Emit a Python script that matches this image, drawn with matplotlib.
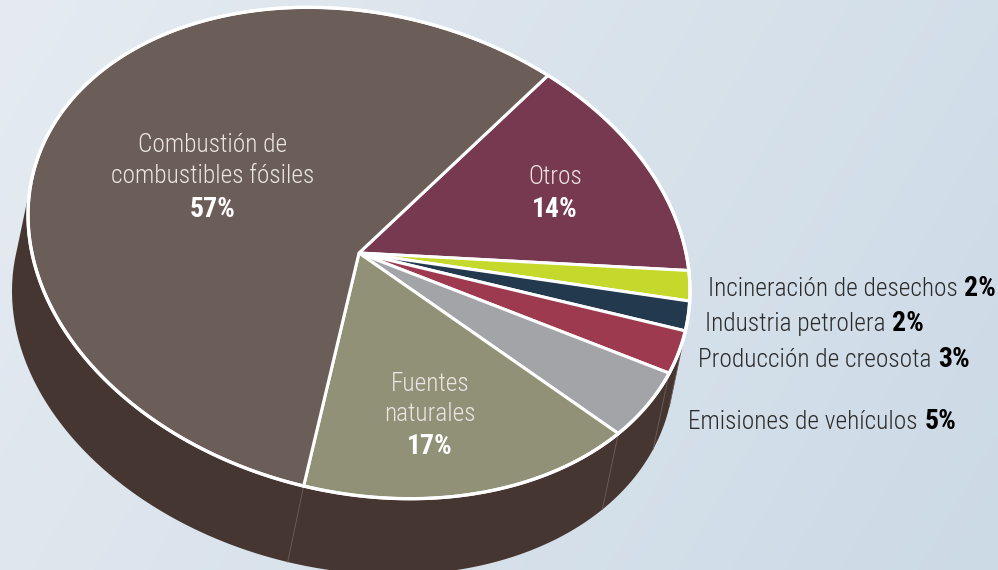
import numpy as np
import matplotlib
matplotlib.use("Agg")
import matplotlib.pyplot as plt
from matplotlib.patches import Polygon
from matplotlib import font_manager

# data (clockwise from the top-right boundary)
labels = ["Otros", "Incineración de desechos", "Industria petrolera",
          "Producción de creosota", "Emisiones de vehículos",
          "Fuentes naturales", "Combustión de combustibles fósiles"]
values = [14, 2, 2, 3, 5, 17, 57]
colors = ["#77394f", "#c5d82c", "#233a4e", "#9e3a4f", "#a3a4a8",
          "#909177", "#6b5d58"]
side_color = "#463631"


def pick_font(cands):
    for c in cands:
        try:
            font_manager.findfont(c, fallback_to_default=False)
            return c
        except Exception:
            pass
    return "DejaVu Sans"


font = pick_font(["Liberation Sans Narrow", "DejaVu Sans Condensed",
                  "Roboto Condensed", "Open Sans Condensed", "Roboto"])

W, H = 998, 570
fig = plt.figure(figsize=(W / 100, H / 100), dpi=100)
ax = fig.add_axes([0, 0, 1, 1])
ax.set_xlim(0, W)
ax.set_ylim(H, 0)
ax.axis("off")

# background gradient
g = np.linspace(0, 1, 256)
c0 = np.array([0xe5, 0xeb, 0xf1]) / 255
c1 = np.array([0xcc, 0xda, 0xe6]) / 255
xx, yy = np.meshgrid(g, g)
tt = np.clip(0.75 * xx + 0.25 * yy, 0, 1)[..., None]
ax.imshow(c0 * (1 - tt) + c1 * tt, extent=[0, W, H, 0], zorder=0, aspect="auto")

# tilted ellipse geometry (screen pixels, y down)
cx, cy = 359, 253
a, b = 335.5, 239.5
phi = np.radians(13.5)
u = np.array([np.cos(phi), np.sin(phi)])
v = np.array([-np.sin(phi), np.cos(phi)])
depth = np.array([-16, 76])


def P(t):
    t = np.atleast_1d(t)
    return np.column_stack([cx + a * np.cos(t) * u[0] + b * np.sin(t) * v[0],
                            cy + a * np.cos(t) * u[1] + b * np.sin(t) * v[1]])


def hull(pts):
    pts = sorted(map(tuple, pts))
    def cross(o, p, q):
        return (p[0] - o[0]) * (q[1] - o[1]) - (p[1] - o[1]) * (q[0] - o[0])
    lo, up = [], []
    for p in pts:
        while len(lo) >= 2 and cross(lo[-2], lo[-1], p) <= 0:
            lo.pop()
        lo.append(p)
    for p in reversed(pts):
        while len(up) >= 2 and cross(up[-2], up[-1], p) <= 0:
            up.pop()
        up.append(p)
    return np.array(lo[:-1] + up[:-1])


full = np.linspace(0, 2 * np.pi, 721)
rim = P(full)
ax.add_patch(Polygon(hull(np.vstack([rim, rim + depth])), closed=True,
                     facecolor=side_color, edgecolor="none", zorder=1))

# slice angles
start = np.radians(-64.9)
bounds = start + np.concatenate([[0], np.cumsum(values)]) / sum(values) * 2 * np.pi

# faint seams on the visible side
for tb in bounds[1:-1]:
    p = P(tb)[0]
    normal = (np.cos(tb) / a) * u * b + (np.sin(tb) / b) * v * a
    if normal @ depth > 0:
        ax.plot([p[0], p[0] + depth[0]], [p[1], p[1] + depth[1]],
                color="#6e605a", lw=0.6, zorder=2)

for i, val in enumerate(values):
    ts = np.linspace(bounds[i], bounds[i + 1], 200)
    pts = np.vstack([[cx, cy], P(ts)])
    ax.add_patch(Polygon(pts, closed=True, facecolor=colors[i],
                         edgecolor="white", lw=2.2, joinstyle="miter", zorder=3))
ax.add_patch(Polygon(rim, closed=True, facecolor="none", edgecolor="white",
                     lw=2.4, zorder=4))

fs = 18.3
fsb = 20
# inner labels
inner = dict(color="#ece6e3", fontsize=fs, family=font, fontweight="light",
             ha="center", va="baseline", zorder=5)
bold = dict(color="white", fontsize=fsb, family=font, fontweight="bold",
            ha="center", va="baseline", zorder=5)
ax.text(213, 152, "Combustión de", **inner)
ax.text(213, 183, "combustibles fósiles", **inner)
ax.text(213, 217, f"{values[6]}%", **bold)
ax.text(555, 184, labels[0], **inner)
ax.text(555, 217, f"{values[0]}%", **bold)
ax.text(430, 391, "Fuentes", **inner)
ax.text(430, 421, "naturales", **inner)
ax.text(430, 454, f"{values[5]}%", **bold)

# outer labels
fig.canvas.draw()
rend = fig.canvas.get_renderer()
outer = [(1, 708, 296), (2, 705, 331), (3, 698, 367), (4, 688, 429)]
for idx, x0, y0 in outer:
    t1 = ax.text(x0, y0, labels[idx] + " ", color="#2b2b2b", fontsize=fs,
                 family=font, fontweight="light", ha="left", va="baseline",
                 zorder=5)
    bb = t1.get_window_extent(rend)
    x1 = ax.transData.inverted().transform((bb.x1, bb.y0))[0]
    ax.text(x1 + 1, y0, f"{values[idx]}%", color="black", fontsize=fsb,
            family=font, fontweight="bold", ha="left", va="baseline", zorder=5)

fig.savefig("out.png", dpi=100)
